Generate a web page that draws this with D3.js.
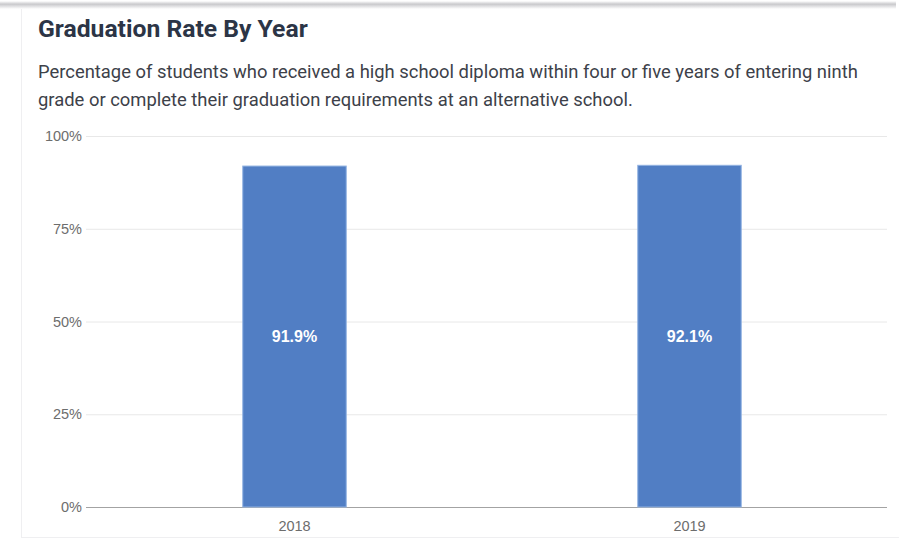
<!doctype html>
<html>
<head>
	<style>
		body{margin:0;background:#fff;}
		svg{display:block;font-family:Roboto, "Noto Sans", sans-serif;}
		.grid line{stroke:#e8e8e8;}
		.grid .domain{display:none;}
		.yaxis text, .xaxis text{fill:#6d6d6d;font-size:14.5px;font-family:"Liberation Sans", Arial, sans-serif;}
	</style>
</head>
<body>
	<div id="chart"></div>
	<script src="https://d3js.org/d3.v7.min.js"></script>
	<script>
		var years = ['2018', '2019'];
		var rates = [91.9, 92.1];
		var yTicks = [0, 25, 50, 75, 100];
		var title = 'Graduation Rate By Year';
		var subtitle = [
			'Percentage of students who received a high school diploma within four or five years of entering ninth',
			'grade or complete their graduation requirements at an alternative school.'
		];

		var W = 899, H = 540;
		var svg = d3.select('#chart').append('svg')
			.attr('width', W)
			.attr('height', H);

		// top shadow strip
		var defs = svg.append('defs');
		var grad = defs.append('linearGradient')
			.attr('id', 'shadow').attr('x1', 0).attr('x2', 0).attr('y1', 0).attr('y2', 1);
		grad.append('stop').attr('offset', '0%').attr('stop-color', '#fff');
		grad.append('stop').attr('offset', '40%').attr('stop-color', '#c9c9cc');
		grad.append('stop').attr('offset', '100%').attr('stop-color', '#fff');
		svg.append('rect').attr('x', 0).attr('y', 1).attr('width', 896).attr('height', 8)
			.attr('fill', 'url(#shadow)');

		// card edges
		svg.append('line').attr('x1', 21.5).attr('x2', 21.5).attr('y1', 9).attr('y2', 537)
			.attr('stroke', '#efeff1');
		svg.append('line').attr('x1', 21).attr('x2', 899).attr('y1', 537.5).attr('y2', 537.5)
			.attr('stroke', '#efeff1');

		svg.append('text')
			.attr('x', 38).attr('y', 37)
			.attr('fill', '#2c3546')
			.attr('font-size', 24.7)
			.attr('font-weight', 'bold')
			.text(title);

		svg.append('g').selectAll('text')
			.data(subtitle)
			.enter().append('text')
			.attr('x', 38)
			.attr('y', function(d, i){ return 78 + i * 28; })
			.attr('fill', '#3d4149')
			.attr('font-size', 18.4)
			.text(function(d){ return d; });

		var pLeft = 97, pRight = 887, pTop = 136, pBottom = 507;

		var x = d3.scaleBand()
			.domain(years)
			.range([pLeft, pRight])
			.paddingInner(0.738)
			.paddingOuter(0.369);

		var y = d3.scaleLinear()
			.domain([0, 100])
			.range([pBottom, pTop]);

		// gridlines + y labels
		svg.append('g')
			.attr('class', 'grid yaxis')
			.attr('transform', 'translate(' + pRight + ',0)')
			.call(d3.axisLeft(y)
				.tickValues(yTicks)
				.tickSize(pRight - 86)
				.tickPadding(4)
				.tickFormat(function(d){ return d + '%'; }));

		svg.selectAll('.grid .tick').filter(function(d){ return d === 0; })
			.select('line').style('stroke', '#a3a3a3');

		svg.selectAll('.bar')
			.data(rates)
			.enter().append('rect')
			.attr('class', 'bar')
			.attr('x', function(d, i){ return x(years[i]); })
			.attr('y', function(d){ return y(d); })
			.attr('width', x.bandwidth())
			.attr('height', function(d){ return y(0) - y(d); })
			.attr('fill', '#517ec4')
			.attr('stroke', '#93b3e2')
			.attr('stroke-width', 1);

		svg.selectAll('.val')
			.data(rates)
			.enter().append('text')
			.attr('class', 'val')
			.attr('x', function(d, i){ return x(years[i]) + x.bandwidth() / 2; })
			.attr('y', function(d){ return (y(d) + y(0)) / 2; })
			.attr('dy', '0.35em')
			.attr('text-anchor', 'middle')
			.attr('fill', '#fff')
			.attr('font-family', '"Liberation Sans", Arial, sans-serif')
			.attr('font-size', 16)
			.attr('font-weight', 'bold')
			.text(function(d){ return d.toFixed(1) + '%'; });

		svg.append('g')
			.attr('class', 'xaxis')
			.attr('transform', 'translate(0,' + pBottom + ')')
			.call(d3.axisBottom(x).tickSize(0).tickPadding(14))
			.select('.domain').remove();
	</script>
</body>
</html>
